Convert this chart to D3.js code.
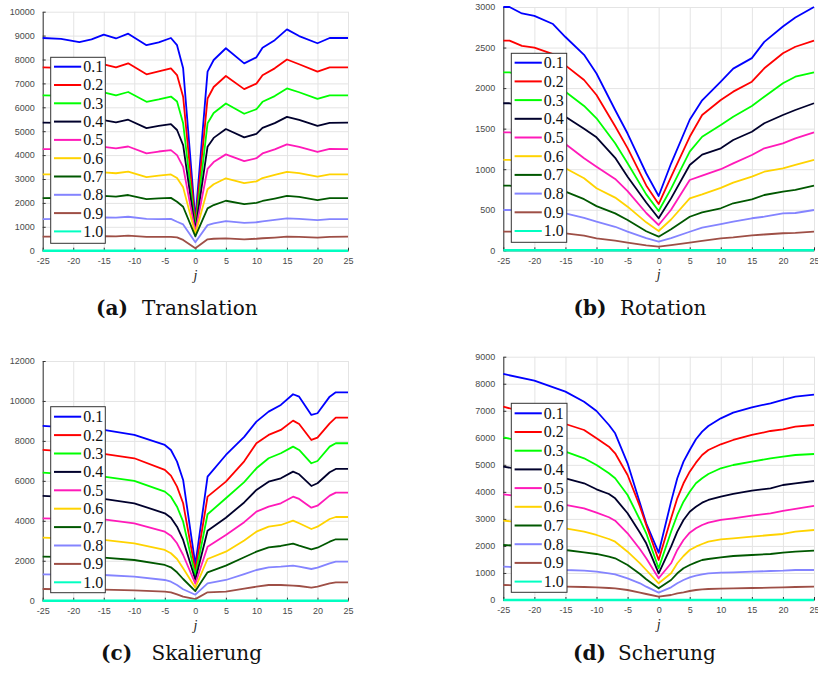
<!DOCTYPE html>
<html lang="de">
<head>
<meta charset="UTF-8">
<title>Translation, Rotation, Skalierung, Scherung</title>
<script src="https://cdn.jsdelivr.net/npm/d3@7"></script>
<style>
    body { margin: 0; background: #fff; }
    .tick text { font-family: "Liberation Sans", Arial, sans-serif; font-size: 9px; fill: #4a4a4a; }
    .grid line { stroke: #e4e4e4; }
    .grid path { display: none; }
    .legend text { font-family: "Liberation Serif", serif; font-size: 16px; fill: #111; }
    .caption { font-family: "DejaVu Serif", serif; font-size: 20px; fill: #111; }
    .xlabel { font-family: "Liberation Serif", serif; font-style: italic; font-size: 14px; fill: #222; }
</style>
</head>
<body>
<svg id="chart" width="818" height="675"></svg>
<script>
// legend labels and colours (same for all four panels)
const labels = ["0.1", "0.2", "0.3", "0.4", "0.5", "0.6", "0.7", "0.8", "0.9", "1.0"];
const colors = ["#0000ff", "#ff0000", "#00ff00", "#00002c", "#ff1ab9",
                "#ffd300", "#005800", "#8484ff", "#9e4f46", "#00ffc1"];

// (a) Translation
const xTrans = [-25, -22, -19, -17, -15, -13, -11, -8, -6, -4, -3, -2, 0, 2, 3, 5, 8, 10, 11, 13, 15, 17, 20, 22, 25];
const translation = [
    [8900, 8860, 8730, 8840, 9040, 8880, 9080, 8600, 8720, 8900, 8600, 7630, 1300, 7490, 7980, 8470, 7840, 8090, 8490, 8810, 9260, 8980, 8680, 8900, 8900],
    [7670, 7650, 7550, 7640, 7800, 7670, 7840, 7380, 7500, 7630, 7350, 6440, 1100, 6370, 6850, 7310, 6760, 6990, 7340, 7630, 8000, 7800, 7490, 7670, 7670],
    [6500, 6490, 6400, 6480, 6620, 6500, 6640, 6230, 6330, 6450, 6240, 5330, 950, 5330, 5760, 6160, 5730, 5920, 6230, 6470, 6790, 6630, 6350, 6500, 6500],
    [5360, 5350, 5280, 5350, 5460, 5370, 5480, 5130, 5220, 5300, 5050, 4420, 850, 4350, 4720, 5090, 4740, 4890, 5140, 5340, 5600, 5470, 5220, 5350, 5360],
    [4250, 4250, 4200, 4260, 4340, 4280, 4360, 4070, 4150, 4210, 4000, 3510, 780, 3420, 3710, 4030, 3750, 3870, 4070, 4240, 4450, 4340, 4130, 4260, 4250],
    [3190, 3190, 3160, 3200, 3280, 3240, 3310, 3080, 3140, 3190, 3040, 2650, 700, 2570, 2780, 3030, 2830, 2900, 3040, 3170, 3300, 3250, 3100, 3190, 3190],
    [2200, 2210, 2200, 2230, 2290, 2260, 2330, 2160, 2190, 2210, 2050, 1840, 600, 1770, 1910, 2090, 1950, 2000, 2080, 2180, 2290, 2250, 2120, 2200, 2200],
    [1325, 1330, 1330, 1350, 1390, 1380, 1420, 1330, 1320, 1330, 1210, 1100, 350, 1070, 1140, 1240, 1160, 1190, 1230, 1290, 1350, 1330, 1280, 1320, 1325],
    [585, 590, 590, 600, 610, 600, 630, 580, 580, 580, 560, 450, 100, 475, 500, 515, 475, 500, 520, 550, 585, 580, 545, 580, 585],
    [0, 0, 0, 0, 0, 0, 0, 0, 0, 0, 0, 0, 0, 0, 0, 0, 0, 0, 0, 0, 0, 0, 0, 0, 0]
];

// (b) Rotation
const xRot = [-25, -24, -22, -20, -17, -15, -12, -10, -7, -5, -2, 0, 2, 5, 7, 10, 12, 15, 17, 20, 22, 25];
const rotation = [
    [3000, 3000, 2920, 2890, 2790, 2630, 2410, 2180, 1730, 1440, 950, 670, 1070, 1610, 1850, 2080, 2240, 2370, 2570, 2760, 2870, 3000],
    [2585, 2585, 2520, 2500, 2420, 2280, 2100, 1915, 1530, 1260, 800, 570, 905, 1400, 1668, 1853, 1956, 2079, 2244, 2429, 2510, 2585],
    [2195, 2195, 2160, 2140, 2070, 1956, 1780, 1628, 1320, 1073, 690, 485, 760, 1216, 1400, 1545, 1647, 1779, 1894, 2059, 2140, 2195],
    [1813, 1813, 1790, 1771, 1720, 1648, 1500, 1393, 1140, 908, 590, 395, 640, 1052, 1180, 1258, 1360, 1462, 1566, 1668, 1730, 1813],
    [1455, 1455, 1430, 1402, 1370, 1311, 1134, 1031, 880, 730, 460, 312, 500, 867, 920, 1000, 1072, 1175, 1258, 1319, 1381, 1455],
    [1114, 1114, 1090, 1073, 1050, 1011, 888, 765, 650, 538, 345, 238, 380, 641, 690, 770, 834, 908, 969, 1011, 1052, 1114],
    [797, 797, 780, 764, 750, 723, 630, 545, 455, 374, 235, 168, 260, 414, 468, 518, 580, 629, 682, 723, 744, 797],
    [497, 497, 490, 477, 465, 456, 400, 353, 290, 230, 150, 107, 150, 229, 279, 324, 353, 395, 414, 456, 460, 497],
    [230, 230, 226, 222, 216, 210, 180, 148, 120, 95, 60, 45, 65, 94, 115, 148, 160, 185, 195, 210, 215, 230],
    [0, 0, 0, 0, 0, 0, 0, 0, 0, 0, 0, 0, 0, 0, 0, 0, 0, 0, 0, 0, 0, 0]
];

// (c) Skalierung
const xScale = [-25, -15, -10, -5, -4, -3, -2, 0, 2, 5, 8, 10, 12, 14, 16, 17, 19, 20, 22, 23, 25];
const skalierung = [
    [8748, 8548, 8298, 7797, 7546, 6962, 6044, 1800, 6209, 7296, 8200, 8964, 9464, 9800, 10335, 10215, 9299, 9384, 10215, 10434, 10434],
    [7546, 7346, 7130, 6545, 6260, 5709, 4877, 1500, 5208, 5960, 6976, 7882, 8298, 8548, 9014, 8848, 8047, 8164, 8881, 9165, 9165],
    [6410, 6209, 5994, 5458, 5208, 4707, 3956, 1250, 4326, 5127, 5933, 6629, 7130, 7380, 7712, 7546, 6880, 6995, 7712, 7882, 7882],
    [5243, 5093, 4877, 4376, 4156, 3705, 3040, 1050, 3505, 4156, 4917, 5543, 5959, 6129, 6460, 6329, 5744, 5879, 6429, 6595, 6595],
    [4126, 4076, 3876, 3455, 3255, 2874, 2288, 850, 2704, 3290, 3931, 4457, 4707, 4877, 5208, 5093, 4657, 4757, 5258, 5408, 5408],
    [3155, 3040, 2874, 2539, 2374, 2088, 1622, 650, 2088, 2454, 3012, 3455, 3705, 3791, 4006, 3876, 3590, 3705, 4091, 4191, 4191],
    [2203, 2153, 2038, 1788, 1672, 1422, 1087, 480, 1422, 1753, 2178, 2454, 2674, 2739, 2854, 2754, 2574, 2654, 2954, 3075, 3075],
    [1322, 1287, 1202, 1037, 952, 786, 571, 300, 871, 1037, 1329, 1537, 1672, 1703, 1753, 1703, 1587, 1653, 1873, 1953, 1953],
    [586, 551, 521, 451, 420, 320, 200, 80, 420, 451, 605, 701, 786, 785, 751, 736, 651, 701, 871, 921, 921],
    [0, 0, 0, 0, 0, 0, 0, 0, 0, 0, 0, 0, 0, 0, 0, 0, 0, 0, 0, 0, 0]
];

// (d) Scherung
const xShear = [-25, -20, -15, -12, -10, -8, -7, -5, -3, -2, 0, 2, 3, 4, 5, 6, 7, 8, 10, 12, 15, 18, 20, 22, 25];
const scherung = [
    [8361, 8114, 7707, 7336, 6992, 6474, 6166, 5057, 3577, 2837, 1750, 3638, 4502, 5118, 5549, 5945, 6228, 6437, 6721, 6930, 7128, 7276, 7399, 7522, 7600],
    [7152, 6844, 6511, 6289, 5982, 5673, 5427, 4624, 3452, 2775, 1480, 3022, 3762, 4317, 4747, 5080, 5364, 5549, 5760, 5919, 6104, 6252, 6315, 6412, 6474],
    [6019, 5771, 5487, 5242, 4994, 4687, 4502, 3884, 2960, 2467, 1172, 2527, 3145, 3638, 4007, 4317, 4502, 4661, 4872, 4994, 5117, 5242, 5302, 5364, 5401],
    [4932, 4747, 4502, 4317, 4095, 3922, 3762, 3208, 2490, 2098, 988, 1972, 2527, 2960, 3267, 3452, 3600, 3700, 3822, 3922, 4044, 4132, 4254, 4317, 4402],
    [3910, 3762, 3515, 3392, 3230, 3060, 2934, 2467, 1876, 1543, 803, 1358, 1850, 2220, 2490, 2653, 2775, 2860, 2960, 3022, 3119, 3208, 3293, 3367, 3478],
    [2934, 2836, 2653, 2527, 2405, 2257, 2157, 1787, 1358, 1110, 617, 988, 1358, 1628, 1850, 1972, 2072, 2157, 2245, 2282, 2342, 2405, 2442, 2527, 2590],
    [2035, 1972, 1850, 1763, 1702, 1602, 1543, 1295, 962, 766, 432, 740, 988, 1172, 1295, 1393, 1480, 1517, 1578, 1628, 1665, 1702, 1750, 1787, 1825],
    [1233, 1196, 1110, 1085, 1048, 988, 950, 802, 617, 493, 271, 469, 617, 740, 839, 900, 950, 988, 1011, 1023, 1048, 1073, 1085, 1110, 1110],
    [555, 530, 493, 481, 469, 444, 432, 370, 271, 222, 123, 185, 247, 284, 333, 370, 395, 407, 419, 432, 444, 456, 469, 481, 493],
    [0, 0, 0, 0, 0, 0, 0, 0, 0, 0, 0, 0, 0, 0, 0, 0, 0, 0, 0, 0, 0, 0, 0, 0, 0]
];

const xTicks = [-25, -20, -15, -10, -5, 0, 5, 10, 15, 20, 25];

// layout of the four panels
const panels = [
    { xs: xTrans, data: translation, yMax: 10000, yStep: 1000,
      box: { l: 42.7, r: 348, t: 11.7, b: 250.7 },
      leg: { x: 50.7, y: 57.3, w: 54.6, h: 186, first: 66.7, step: 18.3 },
      tag: "(a)", title: "Translation", tagX: 96, titleX: 142, capY: 315 },
    { xs: xRot, data: rotation, yMax: 3000, yStep: 500,
      box: { l: 503.3, r: 814, t: 7, b: 250.3 },
      leg: { x: 511.3, y: 53.3, w: 55.4, h: 189, first: 62.7, step: 18.7 },
      tag: "(b)", title: "Rotation", tagX: 573.5, titleX: 620, capY: 315 },
    { xs: xScale, data: skalierung, yMax: 12000, yStep: 2000,
      box: { l: 42.7, r: 348, t: 361, b: 600.7 },
      leg: { x: 50.7, y: 406.7, w: 54.6, h: 186, first: 416.7, step: 18.4 },
      tag: "(c)", title: "Skalierung", tagX: 101, titleX: 151.5, capY: 660 },
    { xs: xShear, data: scherung, yMax: 9000, yStep: 1000,
      box: { l: 503.3, r: 814, t: 356.7, b: 600 },
      leg: { x: 511.3, y: 403.3, w: 55.7, h: 189, first: 413.3, step: 18.7 },
      tag: "(d)", title: "Scherung", tagX: 573, titleX: 618, capY: 660 }
];

const svg = d3.select("#chart");
svg.append("rect").attr("width", 818).attr("height", 675).attr("fill", "#fff");

panels.forEach(p => {
    const x = d3.scaleLinear().domain([-25, 25]).range([p.box.l, p.box.r]);
    const y = d3.scaleLinear().domain([0, p.yMax]).range([p.box.b, p.box.t]);
    const yTicks = d3.range(0, p.yMax + 1, p.yStep);
    const w = p.box.r - p.box.l, h = p.box.b - p.box.t;
    const g = svg.append("g");

    // grid
    g.append("g").attr("class", "grid")
        .attr("transform", `translate(0,${p.box.b})`)
        .call(d3.axisBottom(x).tickValues(xTicks).tickSize(-h).tickFormat(""));
    g.append("g").attr("class", "grid")
        .attr("transform", `translate(${p.box.l},0)`)
        .call(d3.axisLeft(y).tickValues(yTicks).tickSize(-w).tickFormat(""));

    // axes, ticks point inwards
    const ax = g.append("g")
        .attr("transform", `translate(0,${p.box.b})`)
        .call(d3.axisBottom(x).tickValues(xTicks).tickSizeInner(-3).tickSizeOuter(0)
            .tickPadding(7).tickFormat(d => String(d)));
    const ay = g.append("g")
        .attr("transform", `translate(${p.box.l},0)`)
        .call(d3.axisLeft(y).tickValues(yTicks).tickSizeInner(-3).tickSizeOuter(0)
            .tickPadding(8).tickFormat(d => String(d)));
    [ax, ay].forEach(a => {
        a.select(".domain").attr("stroke", "#333");
        a.selectAll(".tick line").attr("stroke", "#333");
    });

    // lines
    const line = d3.line().x((d, i) => x(p.xs[i])).y(d => y(d));
    p.data.forEach((vals, k) => {
        g.append("path")
            .attr("d", line(vals))
            .attr("fill", "none")
            .attr("stroke", colors[k])
            .attr("stroke-width", k === 9 ? 2.6 : 1.8)
            .attr("stroke-linejoin", "round");
    });

    // x label
    g.append("text").attr("class", "xlabel")
        .attr("x", x(0)).attr("y", p.box.b + 29)
        .attr("text-anchor", "middle").text("j");

    // legend
    const lg = g.append("g").attr("class", "legend");
    lg.append("rect")
        .attr("x", p.leg.x).attr("y", p.leg.y)
        .attr("width", p.leg.w).attr("height", p.leg.h)
        .attr("fill", "#fff").attr("stroke", "#333").attr("stroke-width", 1);
    labels.forEach((lab, k) => {
        const ly = p.leg.first + k * p.leg.step;
        lg.append("line")
            .attr("x1", p.leg.x + 3.3).attr("x2", p.leg.x + 30.5)
            .attr("y1", ly).attr("y2", ly)
            .attr("stroke", colors[k]).attr("stroke-width", 2);
        lg.append("text")
            .attr("x", p.leg.x + 32.5).attr("y", ly)
            .attr("dy", "0.34em").text(lab);
    });

    // caption
    const cap = g.append("text").attr("class", "caption").attr("y", p.capY);
    cap.append("tspan").attr("x", p.tagX).attr("font-weight", "bold").text(p.tag);
    cap.append("tspan").attr("x", p.titleX).text(p.title);
});
</script>
</body>
</html>
